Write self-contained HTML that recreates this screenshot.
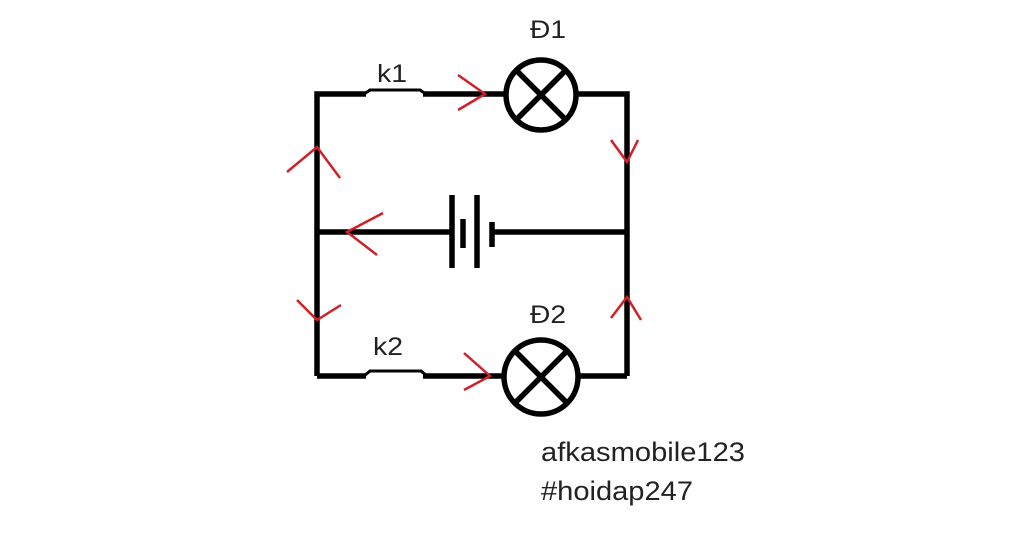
<!DOCTYPE html>
<html><head><meta charset="utf-8"><style>
body{margin:0;background:#fff;width:1024px;height:530px;overflow:hidden}
text{font-family:"Liberation Sans","DejaVu Sans",sans-serif;fill:#222}
</style></head><body>
<svg width="1024" height="530" viewBox="0 0 1024 530">
<g stroke="#000" fill="none" stroke-width="5.5" stroke-linecap="butt">
<polyline points="317,376 317,94 366,94"/>
<polyline points="423,94 506,94"/>
<polyline points="577,94 627,94 627,376"/>
<path d="M364,94 L370,90 L420,90 L426,94" stroke-width="3"/>
<circle cx="541" cy="95" r="35"/>
<line x1="517" y1="71" x2="565" y2="119"/>
<line x1="565" y1="71" x2="517" y2="119"/>
<line x1="317" y1="232" x2="452" y2="232"/>
<line x1="492" y1="232" x2="627" y2="232"/>
<line x1="452" y1="195" x2="452" y2="268"/>
<line x1="477" y1="195" x2="477" y2="268"/>
<line x1="463" y1="219" x2="463" y2="248"/>
<line x1="492" y1="222" x2="492" y2="247"/>
<polyline points="317,376 366,376"/>
<polyline points="423,376 504,376"/>
<polyline points="579,376 627,376"/>
<path d="M364,376 L370,371 L421,371 L427,376" stroke-width="3"/>
<circle cx="541" cy="377" r="37"/>
<line x1="515" y1="351" x2="567" y2="403"/>
<line x1="567" y1="351" x2="515" y2="403"/>
</g>
<g stroke="#d0202a" fill="none" stroke-width="2.5">
<polyline points="458,75 485,94 458,110"/>
<polyline points="611,140 627,162 638,140"/>
<polyline points="287,172 317,147 340,178"/>
<polyline points="383,213 347,232 377,255"/>
<polyline points="297,300 317,320 341,305"/>
<polyline points="611,318 627,297 641,320"/>
<polyline points="464,353 490,376 464,390"/>
</g>
<text x="530" y="38" font-size="25" textLength="36" lengthAdjust="spacingAndGlyphs">Đ1</text>
<text x="377" y="82" font-size="25" textLength="30" lengthAdjust="spacingAndGlyphs">k1</text>
<text x="530" y="323" font-size="25" textLength="36" lengthAdjust="spacingAndGlyphs">Đ2</text>
<text x="373" y="355" font-size="25" textLength="30" lengthAdjust="spacingAndGlyphs">k2</text>
<text x="541" y="461" font-size="27" textLength="204" lengthAdjust="spacingAndGlyphs">afkasmobile123</text>
<text x="541" y="500" font-size="27" textLength="152" lengthAdjust="spacingAndGlyphs">#hoidap247</text>
</svg>
</body></html>
